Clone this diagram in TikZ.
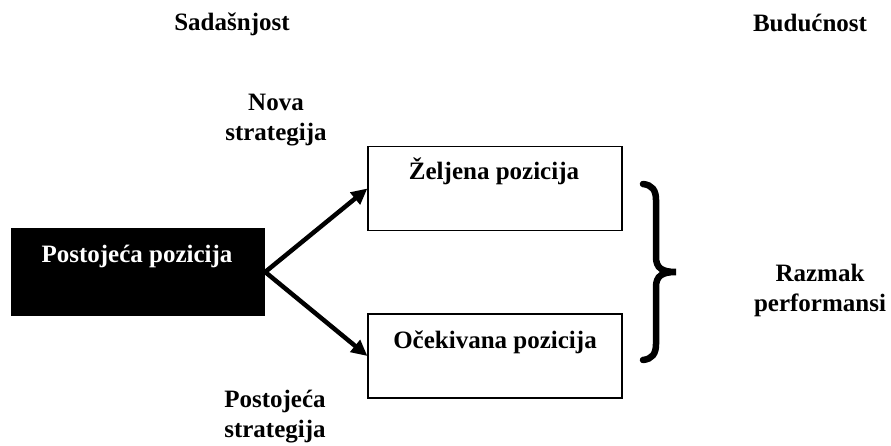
\documentclass[tikz,border=0pt]{standalone}
\usepackage{fontspec}
\setmainfont{Liberation Serif}
\usetikzlibrary{arrows.meta}
\begin{document}
\begin{tikzpicture}[x=1pt,y=-1pt,
  lbl/.style={font=\fontsize{25}{30}\selectfont\bfseries, align=center, anchor=base, inner sep=0pt},
  posbox/.style={draw, line width=1.2pt, minimum width=254pt, minimum height=84pt, inner sep=0pt},
  conn/.style={line width=4.5pt, -{Triangle[length=16pt,width=15pt]}}
]
\useasboundingbox (0,0) rectangle (891,446);
\node[fill=black, minimum width=254pt, minimum height=87pt, inner sep=0pt] (cur) at (138,272) {};
\node[lbl, text=white] (curt) at (137,263) {Postojeća pozicija};
\node[posbox] (des) at (495,188.5) {};
\node[lbl] (dest) at (494,180) {Željena pozicija};
\node[posbox] (exp) at (495,356) {};
\node[lbl] (expt) at (495,348) {Očekivana pozicija};
\node[lbl] (now) at (232,31) {Sadašnjost};
\node[lbl] (fut) at (810,32) {Budućnost};
\node[lbl] (nova) at (276,141) {Nova\\strategija};
\node[lbl] (post) at (275,437) {Postojeća\\strategija};
\node[lbl] (gap) at (820,311) {Razmak\\performansi};
\coordinate (fork) at (cur.east);
\draw[conn] (fork) -- (des.west);
\draw[conn] (fork) -- (exp.west);
\draw[line width=6.5pt, line cap=round] (643,184) .. controls (652,185) and (656,190) .. (656,200)
  -- (656,257) .. controls (656,268) and (662,272) .. (676,272)
  .. controls (662,272) and (656,276) .. (656,287)
  -- (656,344) .. controls (656,354) and (652,359) .. (643,360);
\end{tikzpicture}
\end{document}
